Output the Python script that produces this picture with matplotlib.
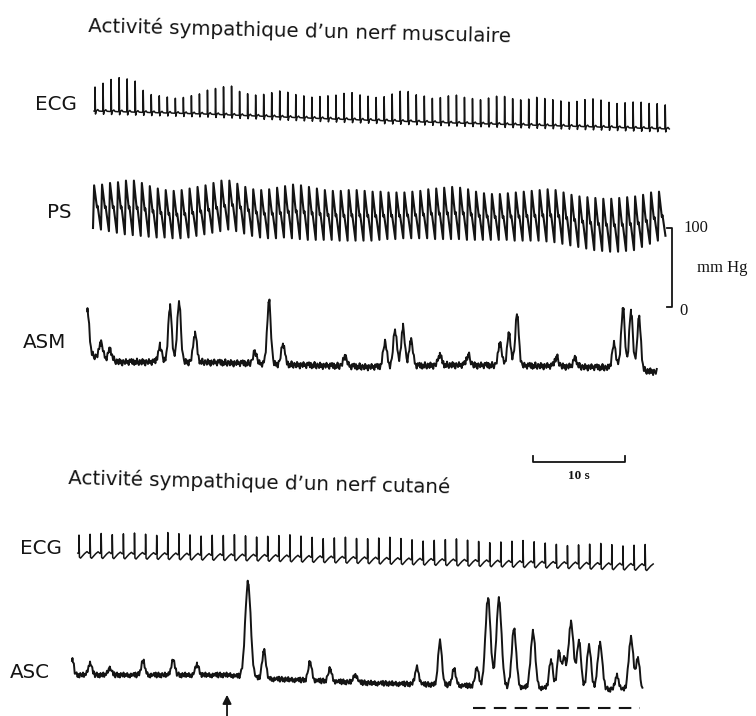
import numpy as np
import matplotlib.pyplot as plt

W, H = 756, 716
PX_PER_S = 9.2  # 10 s bar is 92 px long on the original page

# ---------------- top recording: muscle nerve ----------------
# ECG R-wave amplitude of each beat (mV)
ecg1_peak_mv = [0.96, 1.12, 1.28, 1.36, 1.32, 1.24, 0.88, 0.72, 0.68, 0.64,
                0.60, 0.64, 0.72, 0.80, 0.96, 1.04, 1.12, 1.16, 0.96, 0.88,
                0.84, 0.88, 0.96, 1.04, 1.00, 0.92, 0.88, 0.84, 0.88, 0.92,
                0.96, 1.04, 1.08, 1.00, 0.96, 0.92, 0.96, 1.08, 1.20, 1.20,
                1.08, 1.04, 0.96, 1.00, 1.08, 1.12, 1.04, 1.00, 0.96, 1.04,
                1.12, 1.12, 1.04, 1.00, 1.04, 1.12, 1.08, 1.04, 1.00, 0.96,
                1.00, 1.08, 1.12, 1.08, 1.00, 0.96, 1.00, 1.04, 1.04, 1.00,
                1.00, 0.96]
ecg1_span = (0.22, 62.2)
ecg1_drift_t = [0, 12, 26, 39, 51, 62.5]
ecg1_drift_mv = [0.16, 0.04, -0.16, -0.32, -0.44, -0.56]

# arterial pressure, systolic / diastolic of each beat (mmHg)
ps_sys = [154, 155, 157, 158, 160, 160, 157, 153, 150, 148,
          147, 148, 150, 152, 154, 157, 160, 160, 156, 152,
          149, 148, 149, 151, 153, 155, 154, 152, 150, 148,
          147, 147, 148, 148, 147, 146, 146, 145, 145, 145,
          146, 147, 149, 150, 151, 152, 151, 149, 146, 144,
          143, 143, 144, 145, 146, 147, 148, 149, 148, 145,
          142, 140, 139, 138, 137, 137, 138, 139, 140, 142,
          145, 146]
ps_dia = [100, 98, 96, 94, 92, 91, 90, 89, 88, 88,
          87, 87, 88, 90, 92, 94, 96, 98, 96, 93,
          90, 88, 87, 87, 88, 87, 86, 85, 85, 85,
          85, 84, 84, 84, 84, 84, 85, 86, 86, 87,
          87, 87, 87, 86, 86, 86, 86, 85, 85, 85,
          85, 85, 85, 84, 84, 84, 84, 83, 82, 80,
          78, 76, 74, 72, 71, 70, 70, 71, 72, 76,
          80, 84]
ps_span = (0.0, 61.4)

# muscle sympathetic activity (arbitrary units)
asm_span = (-0.62, 61.3)
asm_drift_t = [-0.65, 0.76, 2.9, 11.6, 22.5, 30.1, 38.8, 49.7, 57.3, 61.3]
asm_drift_v = [8, 4, 0, 0, -3, -5, -3, -4, -6, -10]
asm_burst_t = [-0.6, 0.87, 1.85, 7.28, 8.37, 9.35, 11.09, 17.6, 19.13, 20.65,
               27.4, 31.74, 32.83, 33.70, 34.57, 37.7, 40.8, 44.24, 45.22, 46.09,
               50.4, 52.4, 56.63, 57.61, 58.48, 59.35]
asm_burst_h = [43, 16, 10, 16, 55, 60, 28, 12, 63, 20,
               10, 25, 36, 39, 26, 10, 10, 22, 31, 51,
               9, 8, 24, 60, 58, 52]
asm_noise = [0, 3, -2, 2.5, -3, 1, -2, 3.5, -1, -3, 2, 0.5, -2.5, 3,
             -1.5, 1.5, -3.5, 2, 0, -2, 3, -1, 1, -3, 2.5]

# ---------------- bottom recording: skin nerve ----------------
ecg2_peak_mv = [0.72, 0.76, 0.80, 0.76, 0.80, 0.84, 0.80, 0.76, 0.88, 0.84,
                0.80, 0.76, 0.80, 0.80, 0.84, 0.80, 0.76, 0.80, 0.84, 0.88,
                0.84, 0.80, 0.76, 0.80, 0.84, 0.80, 0.80, 0.84, 0.88, 0.84,
                0.80, 0.76, 0.80, 0.84, 0.88, 0.84, 0.80, 0.76, 0.80, 0.84,
                0.88, 0.84, 0.80, 0.76, 0.72, 0.76, 0.80, 0.84, 0.80, 0.76,
                0.80, 0.84]
ecg2_span = (0.76, 62.3)
ecg2_drift_t = [0, 20, 40, 62.3]
ecg2_drift_mv = [0, -0.12, -0.3, -0.5]

asc_span = (0.0, 62.1)
asc_drift_t = [0, 17.2, 19.3, 24.8, 32.4, 41.0, 46.5, 61.7, 62.1]
asc_drift_v = [0, 0, -3, -5, -8, -10, -12, -15, -17]
asc_burst_t = [0.05, 1.96, 4.1, 7.72, 10.98, 13.59, 19.13, 20.87, 25.87, 28.04,
               30.8, 37.5, 40.0, 41.52, 44.02, 45.22, 46.41, 48.04, 50.11, 52.07,
               52.93, 53.48, 54.24, 55.11, 56.2, 57.39, 59.24, 60.76, 61.52]
asc_burst_h = [15, 12, 7, 14, 15, 10, 95, 28, 18, 12,
               8, 17, 45, 16, 18, 88, 88, 58, 56, 28,
               36, 28, 66, 48, 44, 46, 14, 52, 32]
asc_burst_w = [0.15, 0.2, 0.2, 0.2, 0.2, 0.2, 0.3, 0.2, 0.2, 0.2,
               0.2, 0.2, 0.2, 0.2, 0.2, 0.28, 0.28, 0.25, 0.25, 0.2,
               0.2, 0.2, 0.28, 0.22, 0.22, 0.25, 0.2, 0.25, 0.2]
asc_noise = [0, 2, -1.5, 2.5, -2.5, 0.5, 2.5, -2, 1, -2.5, 2, 0,
             -1.5, 2.5, -2, 1, -1, 2, -2, 0.5, -2.5, 1.5, -1]
stimulus_t = 16.85
warming_t = (43.6, 61.7)

INK = "#141414"


def trace_axes(fig, top_px, bottom_px, zero_px, px_per_unit, t0_px):
    ax = fig.add_axes([0, 1 - bottom_px / H, 1, (bottom_px - top_px) / H])
    ax.set_xlim(-t0_px / PX_PER_S, (W - t0_px) / PX_PER_S)
    ax.set_ylim(-(bottom_px - zero_px) / px_per_unit, (zero_px - top_px) / px_per_unit)
    ax.axis("off")
    ax.patch.set_alpha(0)
    return ax


def ecg_wave(peaks, span, drift_t, drift_v, shape):
    beats = np.linspace(span[0], span[1], len(peaks))
    rr = beats[1] - beats[0]
    ts, vs = [], []
    for tb, h in zip(beats, peaks):
        b = np.interp(tb, drift_t, drift_v)
        for dt, rel, frac in shape:
            ts.append(tb + dt * rr)
            vs.append(b + rel + frac * h)
    return np.array(ts), np.array(vs)


def ps_wave(sys_, dia, span):
    beats = np.linspace(span[0], span[1], len(sys_))
    rr = beats[1] - beats[0]
    ts, vs = [], []
    for k, tb in enumerate(beats):
        s, d = sys_[k], dia[k]
        pp = s - d
        ts += [tb, tb + 0.14 * rr, tb + 0.4 * rr, tb + 0.5 * rr, tb + 0.58 * rr]
        vs += [d, s, d + 0.62 * pp, d + 0.48 * pp, d + 0.52 * pp]
    ts.append(beats[-1] + 0.95 * rr)
    vs.append(dia[-1] + 0.1 * (sys_[-1] - dia[-1]))
    return np.array(ts), np.array(vs)


def nerve_wave(span, drift_t, drift_v, noise, bt, bh, bw):
    t = np.union1d(np.arange(span[0], span[1], 0.1), bt)
    t = t[(t >= span[0]) & (t <= span[1])]
    v = np.interp(t, drift_t, drift_v) + np.resize(noise, len(t))
    for t0, h, w in zip(bt, bh, bw):
        v = v + h * np.exp(-0.5 * ((t - t0) / w) ** 2)
    return t, v


fig = plt.figure(figsize=(W / 100, H / 100), dpi=100)
fig.patch.set_facecolor("white")


def label(x, y, s, **kw):
    fig.text(x / W, 1 - y / H, s, **kw)


sans = dict(family="DejaVu Sans", fontsize=14.3, color=INK)
serif = dict(family="Liberation Serif", color=INK)

# titles (the scan is slightly tilted)
label(88, 26, "Activité sympathique d’un nerf musculaire", ha="left", va="center",
      rotation=-1.4, rotation_mode="anchor", **sans)
label(68, 478, "Activité sympathique d’un nerf cutané", ha="left", va="center",
      rotation=-1.4, rotation_mode="anchor", **sans)

label(35, 104, "ECG", ha="left", va="center", **sans)
label(47, 213, "PS", ha="left", va="center", **sans)
label(23, 342, "ASM", ha="left", va="center", **sans)
label(20, 548, "ECG", ha="left", va="center", **sans)
label(10, 672, "ASC", ha="left", va="center", **sans)

# ECG (muscle)
ax = trace_axes(fig, 55, 150, 115, 25, 93)
ecg1_shape = [(-0.12, 0, 0), (-0.03, 0.02, 0), (0, 0, 1), (0.06, -0.12, 0),
              (0.14, 0, 0), (0.34, 0.06, 0), (0.5, 0, 0)]
t, v = ecg_wave(ecg1_peak_mv, ecg1_span, ecg1_drift_t, ecg1_drift_mv, ecg1_shape)
ax.plot(t, v, color=INK, lw=1.1)

# PS
ax = trace_axes(fig, 150, 330, 307, 0.79, 93)
t, v = ps_wave(ps_sys, ps_dia, ps_span)
ax.plot(t, v, color=INK, lw=1.5)
tb = (672 - 93) / PX_PER_S
ax.plot([tb - 0.55, tb, tb, tb - 0.55], [100, 100, 0, 0], color=INK, lw=1.3, clip_on=False)
ax.text(tb + 1.2, 100, "100", ha="left", va="center", fontsize=12, **serif)
ax.text(tb + 0.8, -5, "0", ha="left", va="center", fontsize=12, **serif)
ax.text(tb + 2.7, 49, "mm Hg", ha="left", va="center", fontsize=12, **serif)

# ASM
ax = trace_axes(fig, 280, 400, 362, 1, 93)
t, v = nerve_wave(asm_span, asm_drift_t, asm_drift_v, asm_noise,
                  asm_burst_t, asm_burst_h, [0.2] * len(asm_burst_t))
ax.plot(t, v, color=INK, lw=1.4)

# ECG (skin)
ax = trace_axes(fig, 510, 600, 553, 25, 72)
ecg2_shape = [(-0.1, 0, 0), (-0.02, 0.03, 0), (0, 0, 1), (0.04, -0.16, 0),
              (0.14, -0.2, 0), (0.3, -0.12, 0), (0.5, -0.02, 0), (0.72, 0.06, 0)]
t, v = ecg_wave(ecg2_peak_mv, ecg2_span, ecg2_drift_t, ecg2_drift_mv, ecg2_shape)
ax.plot(t, v, color=INK, lw=1.1)

# ASC + time bar, stimulus arrow and dashed period
ax = trace_axes(fig, 440, 716, 675, 1, 72)
t, v = nerve_wave(asc_span, asc_drift_t, asc_drift_v, asc_noise,
                  asc_burst_t, asc_burst_h, asc_burst_w)
ax.plot(t, v, color=INK, lw=1.4)
t_bar = (533 - 72) / PX_PER_S
ax.plot([t_bar, t_bar, t_bar + 10, t_bar + 10], [219, 213, 213, 219], color=INK, lw=1.3)
ax.text(t_bar + 5, 199, "10 s", ha="center", va="center", fontsize=9.5,
        fontweight="bold", **serif)
ax.annotate("", xy=(stimulus_t, -17), xytext=(stimulus_t, -48),
            arrowprops=dict(arrowstyle="-|>", lw=1.3, color=INK, mutation_scale=13),
            annotation_clip=False)
ax.plot(warming_t, [-33, -33], color=INK, lw=1.5, ls=(0, (6, 4)))

fig.savefig("out.png", dpi=100, facecolor="white")
